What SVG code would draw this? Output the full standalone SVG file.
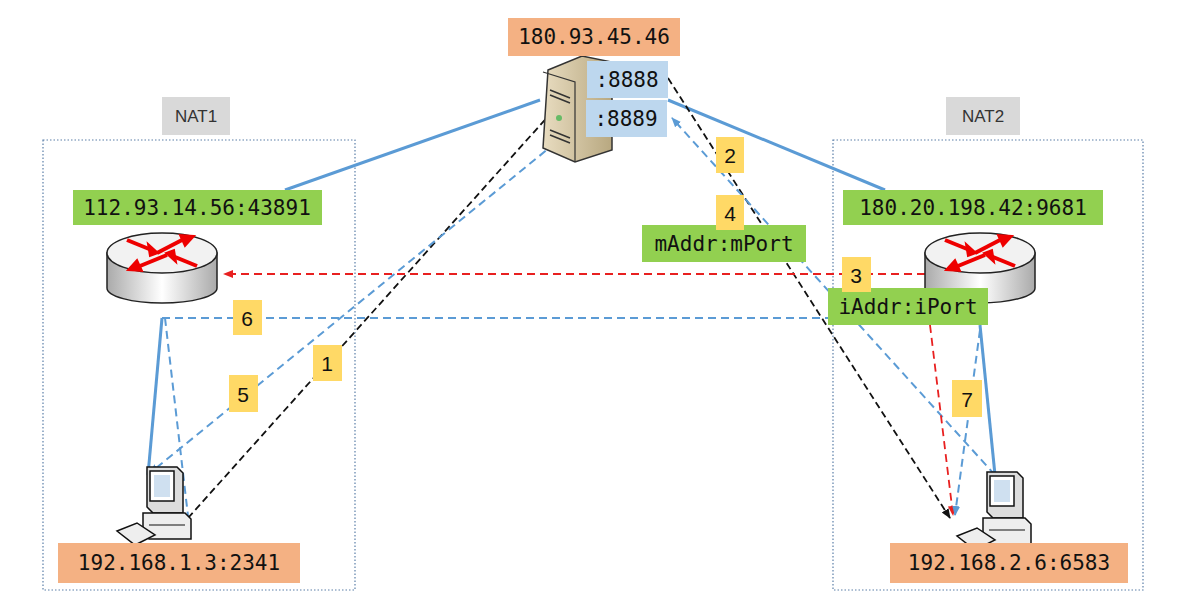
<svg xmlns="http://www.w3.org/2000/svg" width="1178" height="616" viewBox="0 0 1178 616">
<defs>
<style>
text{font-family:"DejaVu Sans Mono","Liberation Mono",monospace;font-size:21px;fill:#111;dominant-baseline:central;text-anchor:middle}
.num{font-family:"Liberation Sans",Arial,sans-serif;font-size:21px}
.nat{font-family:"Liberation Sans",Arial,sans-serif;font-size:17px;fill:#333}
.or{fill:#f4b183}.gr{fill:#92d050}.bl{fill:#bdd7ee}.ye{fill:#ffd966}.gy{fill:#d9d9d9}
.zone{fill:none;stroke:#5b7fa8;stroke-width:1.2;stroke-dasharray:1.5 2}
.sb{stroke:#5b9bd5;stroke-width:3;fill:none}
.db{stroke:#5b9bd5;stroke-width:2;stroke-dasharray:8 5;fill:none}
.dk{stroke:#111;stroke-width:1.8;stroke-dasharray:7 4;fill:none}
.dr{stroke:#e82020;stroke-width:1.8;stroke-dasharray:8 5;fill:none}
</style>
<marker id="ak" markerWidth="10" markerHeight="10" refX="9" refY="5" orient="auto" markerUnits="userSpaceOnUse"><path d="M0,1 L10,5 L0,9 z" fill="#111"/></marker>
<marker id="ab" markerWidth="10" markerHeight="10" refX="9" refY="5" orient="auto" markerUnits="userSpaceOnUse"><path d="M0,1 L10,5 L0,9 z" fill="#5b9bd5"/></marker>
<marker id="ar" markerWidth="10" markerHeight="10" refX="9" refY="5" orient="auto" markerUnits="userSpaceOnUse"><path d="M0,1 L10,5 L0,9 z" fill="#e82020"/></marker>
<linearGradient id="rg" x1="0" x2="1"><stop offset="0" stop-color="#aaa"/><stop offset="0.5" stop-color="#fff"/><stop offset="1" stop-color="#aaa"/></linearGradient>
<linearGradient id="sg" x1="0" x2="1"><stop offset="0" stop-color="#e8dcc0"/><stop offset="1" stop-color="#b8a880"/></linearGradient>
<g id="router">
<path d="M-55,-15 L-55,20 A55,15 0 0 0 55,20 L55,-15 Z" fill="url(#rg)" stroke="#222" stroke-width="1.5"/>
<ellipse cx="0" cy="-15" rx="55" ry="20" fill="#f2f2f2" stroke="#222" stroke-width="1.5"/>
<g fill="#e00" stroke="#e00" stroke-width="4">
<line x1="-35" y1="-28" x2="-8" y2="-17"/><path d="M-4,-15 L-14,-24 L-12,-12 Z" stroke-width="2"/>
<line x1="-5" y1="-15" x2="20" y2="-28"/><path d="M32,-32 L18,-33 L23,-22 Z" stroke-width="2"/>
<line x1="35" y1="-2" x2="8" y2="-13"/><path d="M4,-15 L14,-6 L12,-18 Z" stroke-width="2"/>
<line x1="5" y1="-13" x2="-22" y2="-2"/><path d="M-34,2 L-20,3 L-25,-8 Z" stroke-width="2"/>
</g>
</g>
<g id="pc">
<path d="M-8,-38 L22,-38 L28,-32 L28,8 L-2,8 L-8,2 Z" fill="#ddd" stroke="#111" stroke-width="1.5"/>
<rect x="-5" y="-34" width="24" height="30" fill="#fff" stroke="#111" stroke-width="1.5"/>
<rect x="-1" y="-30" width="16" height="22" fill="#cfe0f0"/>
<path d="M-12,8 L30,8 L36,14 L36,34 L-6,34 L-12,28 Z" fill="#eee" stroke="#111" stroke-width="1.5"/>
<line x1="-6" y1="20" x2="30" y2="20" stroke="#111"/>
<path d="M-38,26 L-18,18 L0,30 L-20,40 Z" fill="#eee" stroke="#111" stroke-width="1.5"/>
</g>
</defs>
<rect width="1178" height="616" fill="#fff"/>

<rect class="zone" x="43" y="140" width="312" height="450"/>
<rect class="zone" x="833" y="140" width="310" height="450"/>

<g id="connectors">
<line class="sb" x1="285" y1="190" x2="540" y2="100"/>
<line class="sb" x1="668" y1="100" x2="885" y2="190"/>
<line class="sb" x1="162" y1="318" x2="148" y2="475"/>
<line class="sb" x1="980" y1="325" x2="995" y2="475"/>
<line class="dk" x1="188" y1="518" x2="586" y2="74" marker-end="url(#ak)"/>
<line class="dk" x1="668" y1="78" x2="950" y2="518" marker-end="url(#ak)"/>
<line class="db" x1="586" y1="118" x2="150" y2="473" marker-end="url(#ab)"/>
<line class="db" x1="995" y1="475" x2="672" y2="118" marker-end="url(#ab)"/>
<line class="db" x1="162" y1="318" x2="828" y2="318"/>
<line class="db" x1="165" y1="318" x2="188" y2="516"/>
<line class="dr" x1="925" y1="274" x2="224" y2="274" marker-end="url(#ar)"/>
<line class="dr" x1="930" y1="325" x2="953" y2="515" marker-end="url(#ar)"/>
<line class="db" x1="980" y1="330" x2="955" y2="515" marker-end="url(#ab)"/>
</g>

<g id="server">
<path d="M548,70 L582,56 L612,62 L612,150 L575,162 L543,148 Z" fill="url(#sg)" stroke="#333" stroke-width="1.5"/>
<path d="M543,72 L575,82 L575,162" fill="none" stroke="#333" stroke-width="1.2"/>
<path d="M550,90 L570,98 M550,95 L570,103 M550,130 L570,138 M550,135 L570,143" stroke="#333" stroke-width="1.5"/>
<circle cx="559" cy="118" r="3" fill="#6b6"/>
<rect class="or" x="508" y="18" width="172" height="38"/><text x="594" y="37">180.93.45.46</text>
<rect class="bl" x="587" y="61" width="81" height="37"/><text x="627" y="80">:8888</text>
<rect class="bl" x="586" y="100" width="81" height="37"/><text x="626" y="119">:8889</text>
</g>

<g id="nat1"><rect class="gy" x="162" y="97" width="68" height="38"/><text class="nat" x="196" y="116">NAT1</text></g>
<g id="nat2"><rect class="gy" x="946" y="97" width="74" height="38"/><text class="nat" x="983" y="116">NAT2</text></g>

<g id="router1"><use href="#router" x="162" y="268"/>
<rect class="gr" x="73" y="190" width="249" height="35"/><text x="197" y="208">112.93.14.56:43891</text></g>
<g id="router2"><use href="#router" x="980" y="268"/>
<rect class="gr" x="843" y="190" width="260" height="35"/><text x="973" y="208">180.20.198.42:9681</text></g>

<g id="maddr"><rect class="gr" x="642" y="225" width="164" height="37"/><text x="724" y="244">mAddr:mPort</text></g>
<g id="iaddr"><rect class="gr" x="828" y="288" width="160" height="37"/><text x="908" y="307">iAddr:iPort</text></g>

<g id="pc1"><use href="#pc" x="155" y="505"/>
<rect class="or" x="58" y="543" width="242" height="40"/><text x="179" y="563">192.168.1.3:2341</text></g>
<g id="pc2"><use href="#pc" x="995" y="510"/>
<rect class="or" x="890" y="543" width="238" height="40"/><text x="1009" y="563">192.168.2.6:6583</text></g>

<g id="n2"><rect class="ye" x="716" y="137" width="28" height="36"/><text class="num" x="730" y="155">2</text></g>
<g id="n4"><rect class="ye" x="716" y="195" width="28" height="35"/><text class="num" x="730" y="213">4</text></g>
<g id="n3"><rect class="ye" x="842" y="257" width="29" height="35"/><text class="num" x="856" y="275">3</text></g>
<g id="n6"><rect class="ye" x="233" y="300" width="29" height="35"/><text class="num" x="247" y="318">6</text></g>
<g id="n1"><rect class="ye" x="313" y="345" width="29" height="36"/><text class="num" x="327" y="363">1</text></g>
<g id="n5"><rect class="ye" x="229" y="375" width="29" height="37"/><text class="num" x="243" y="394">5</text></g>
<g id="n7"><rect class="ye" x="952" y="380" width="30" height="37"/><text class="num" x="967" y="399">7</text></g>
</svg>
